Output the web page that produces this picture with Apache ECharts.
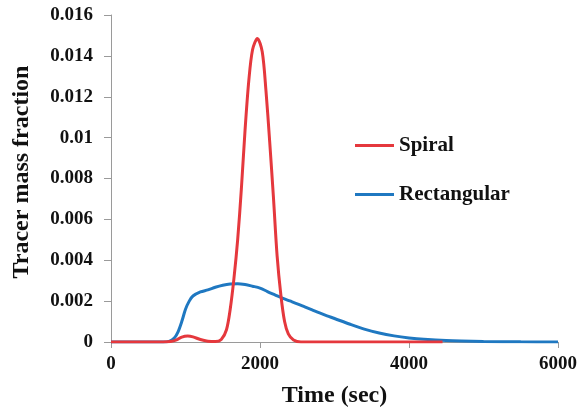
<!DOCTYPE html>
<html><head><meta charset="utf-8">
<script src="https://cdn.jsdelivr.net/npm/echarts@6/dist/echarts.min.js"></script>
<style>html,body{margin:0;padding:0;background:#fff}#c{width:584px;height:409px}</style>
</head><body><div id="c"></div>
<script>
const spiralTime = [0,700,800,880,950,1030,1100,1200,1300,1400,1480,1550,1600,1650,1700,1750,1800,1850,1900,1965,2030,2080,2130,2180,2230,2280,2330,2380,2450,2550,3000,4450];
const spiralValue = [0,0,0.00002,0.0001,0.00024,0.00029,0.00025,0.00012,0.00004,0.00002,0.00012,0.0006,0.0016,0.0031,0.0050,0.0075,0.0104,0.0128,0.0143,0.01485,0.0142,0.0123,0.0098,0.0071,0.0042,0.0023,0.0010,0.0004,0.0001,0,0,0];
const rectTime = [0,700,780,850,900,950,1000,1050,1100,1200,1300,1400,1500,1600,1700,1800,1900,2000,2100,2200,2300,2400,2500,2600,2700,2800,2900,3000,3200,3400,3600,3800,4000,4200,4500,5000,5500,6000];
const rectValue = [0,0,0.00003,0.0002,0.0005,0.001,0.0016,0.002,0.00225,0.00245,0.00255,0.00268,0.00278,0.00284,0.00285,0.00281,0.00273,0.00264,0.00247,0.00231,0.00215,0.00201,0.00187,0.00172,0.00157,0.00142,0.00128,0.00115,0.00088,0.00063,0.00044,0.0003,0.0002,0.00013,0.00007,0.00003,0.00001,0];
const seriesNames = ['Spiral','Rectangular'];
const xTitle = 'Time (sec)';
const yTitle = 'Tracer mass fraction';

const zip = (a,b) => a.map((v,i)=>[v,b[i]]);
const font = '"Liberation Serif","Times New Roman",serif';
const chart = echarts.init(document.getElementById('c'));
chart.setOption({
  animation:false,
  grid:{left:111,right:26,top:15,bottom:67,outerBoundsMode:'none',containLabel:false},
  legend:{
    orient:'vertical', left:350, top:130, itemGap:28, itemWidth:39, itemHeight:3, icon:'rect',
    textStyle:{fontFamily:font,fontWeight:'bold',fontSize:21,color:'#111'},
    data:seriesNames
  },
  xAxis:{
    type:'value', min:0, max:6000, interval:2000,
    name:xTitle, nameLocation:'middle', nameGap:42,
    nameTextStyle:{fontFamily:font,fontWeight:'bold',fontSize:24,color:'#111'},
    axisLine:{lineStyle:{color:'#9a9a9a'}},
    axisTick:{show:true,length:6,lineStyle:{color:'#9a9a9a'}},
    axisLabel:{fontFamily:font,fontWeight:'bold',fontSize:19,color:'#111',margin:13,formatter:v=>String(v)},
    splitLine:{show:false}
  },
  yAxis:{
    type:'value', min:0, max:0.016, interval:0.002,
    name:yTitle, nameLocation:'middle', nameGap:77, nameRotate:90,
    nameTextStyle:{fontFamily:font,fontWeight:'bold',fontSize:24,color:'#111',padding:[0,0,0,13]},
    axisLine:{show:true,lineStyle:{color:'#9a9a9a'}},
    axisTick:{show:true,length:7,lineStyle:{color:'#9a9a9a'}},
    axisLabel:{fontFamily:font,fontWeight:'bold',fontSize:19,color:'#111',margin:18,formatter:v=>String(v)},
    splitLine:{show:false}
  },
  series:[
    {name:seriesNames[0],type:'line',data:zip(spiralTime,spiralValue),smooth:0.3,showSymbol:false,
     lineStyle:{color:'#e5383d',width:3},itemStyle:{color:'#e5383d'},z:3},
    {name:seriesNames[1],type:'line',data:zip(rectTime,rectValue),smooth:0.3,showSymbol:false,
     lineStyle:{color:'#1f78c1',width:3},itemStyle:{color:'#1f78c1'},z:2}
  ]
});
</script></body></html>
